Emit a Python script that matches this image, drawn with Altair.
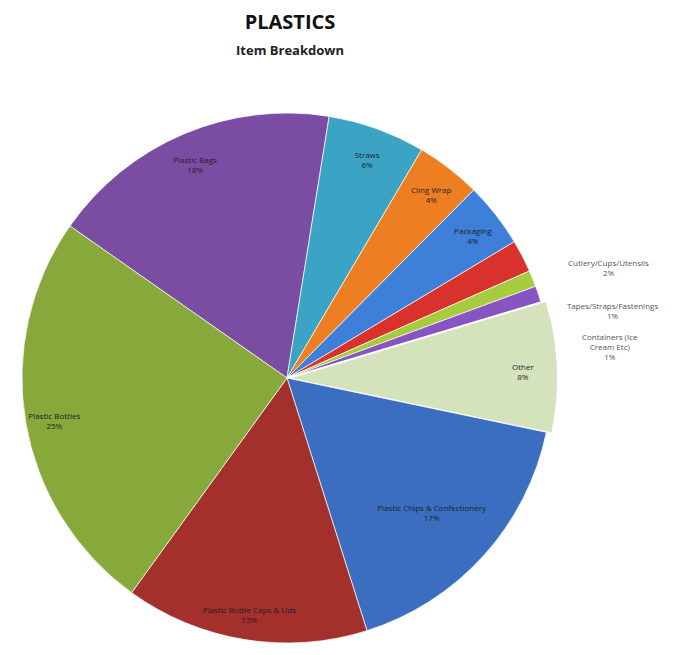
import math
import altair as alt
import pandas as pd

items = ["Plastic Bags", "Straws", "Cling Wrap", "Packaging",
         "Cutlery/Cups/Utensils", "Tapes/Straps/Fastenings",
         "Containers (Ice Cream Etc)", "Other",
         "Plastic Chips & Confectionery", "Plastic Bottle Caps & Lids",
         "Plastic Bottles"]
values = [18, 6, 4, 4, 2, 1, 1, 8, 17, 15, 25]
labels = ["Plastic Bags\n18%", "Straws\n6%", "Cling Wrap\n4%", "Packaging\n4%",
          "Cutlery/Cups/Utensils\n2%", "Tapes/Straps/Fastenings\n1%",
          "Containers (Ice\nCream Etc)\n1%", "Other\n8%",
          "Plastic Chips & Confectionery\n17%", "Plastic Bottle Caps & Lids\n15%",
          "Plastic Bottles\n25%"]
outside = ["Cutlery/Cups/Utensils", "Tapes/Straps/Fastenings", "Containers (Ice Cream Etc)"]
colors = ["#7A4DA3", "#3BA3C3", "#EE7E22", "#3D7FD9", "#D9312B", "#A6CB3D",
          "#8853C2", "#D5E3BD", "#3B6EC0", "#A3302B", "#87A83A"]

df = pd.DataFrame({"item": items, "value": values, "label": labels,
                   "idx": list(range(len(items)))})
df["inlabel"] = [l if (i not in outside and i != "Plastic Chips & Confectionery") else ""
                 for i, l in zip(items, labels)]

start = math.radians(305) - 2 * math.pi
theta = alt.Theta("value:Q", stack=True,
                  scale=alt.Scale(range=[start, start + 2 * math.pi]))
order = alt.Order("idx:Q")
CX, CY, R = 279, 370, 265

base = alt.Chart(df)

pie = base.mark_arc(radius=R, stroke="white", strokeWidth=0.7).encode(
    theta=theta,
    order=order,
    color=alt.condition(alt.datum.item == "Other", alt.value("white"),
                        alt.Color("item:N", scale=alt.Scale(domain=items, range=colors), legend=None)),
    x=alt.value(CX), y=alt.value(CY),
)

other = base.mark_arc(radius=R).encode(
    theta=theta,
    order=order,
    color=alt.Color("item:N", scale=alt.Scale(domain=items, range=colors), legend=None),
    opacity=alt.condition(alt.datum.item == "Other", alt.value(1), alt.value(0)),
    x=alt.value(CX + 5), y=alt.value(CY),
)

inside = base.mark_text(radius=236, lineBreak="\n", fontSize=8, color="#1e1e2a",
                        font="Open Sans").encode(
    theta=theta, order=order, text="inlabel:N",
    x=alt.value(CX), y=alt.value(CY),
)


def single_layer(name, radius, dx, dy, color):
    return base.transform_calculate(
        t=f"datum.item == '{name}' ? datum.label : ''"
    ).mark_text(radius=radius, lineBreak="\n", fontSize=8, color=color,
                font="Open Sans", dx=dx, dy=dy).encode(
        theta=theta, order=order, text="t:N",
        x=alt.value(CX), y=alt.value(CY),
    )


chips = single_layer("Plastic Chips & Confectionery", 195, 0, 0, "#1e1e2a")
o1 = single_layer(outside[0], 335, 24, 40, "#555555")
o2 = single_layer(outside[1], 335, 15, 55, "#555555")
o3 = single_layer(outside[2], 335, 5, 66, "#555555")

title = alt.Chart(pd.DataFrame({"t": ["PLASTICS"]})).mark_text(
    fontSize=20, fontWeight="bold", font="Open Sans", color="#111111").encode(
    x=alt.value(282), y=alt.value(15), text="t:N")
subtitle = alt.Chart(pd.DataFrame({"t": ["Item Breakdown"]})).mark_text(
    fontSize=13, fontWeight="bold", font="Open Sans", color="#222222").encode(
    x=alt.value(282), y=alt.value(43), text="t:N")

chart = alt.layer(pie, other, inside, chips, o1, o2, o3, title, subtitle).properties(
    width=673, height=639, autosize=alt.AutoSizeParams(type="none"), padding=0
).configure_view(stroke=None)

chart.save("out.html", embed_options={"renderer": "svg", "actions": False})
